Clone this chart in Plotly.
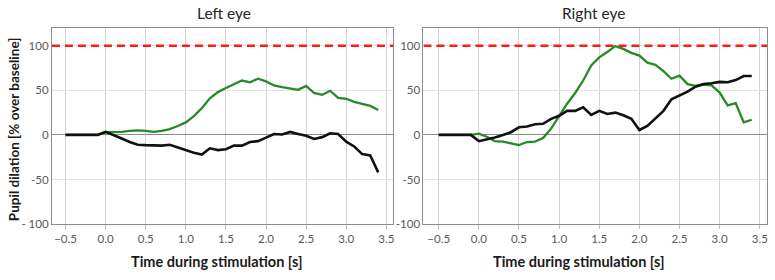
import plotly.graph_objects as go

time = [round(-0.5 + 0.1 * i, 1) for i in range(40)]

left_black = [0, 0, 0, 0, 0, 3.5, 0, -4, -8, -11, -11.5, -12, -12, -11, -14, -17, -20, -22, -15, -17,
              -16, -12, -12, -8, -7, -3, 1, 0.5, 3.3, 1, -1, -4.5, -2.5, 1.8, 1, -7.5, -13, -21.5, -23, -42]
left_green = [0, 0, 0, 0, 0, 3, 3, 3.5, 4.5, 5, 4.5, 3.5, 4.5, 6.5, 10, 14, 21, 30, 41, 48,
              52.5, 57, 61, 59, 63, 60, 55.5, 53.5, 52, 50.5, 55, 47, 45, 49.5, 41.5, 40.5, 37, 34.5, 32.5, 28]
right_black = [0, 0, 0, 0, 0, -7, -5, -3, 0, 3, 8.5, 9.5, 12, 12.5, 18, 21.5, 27, 27, 31, 22.5,
               27, 23.5, 25, 22, 18, 5.5, 10, 18.5, 27, 40, 44, 48.5, 54, 57, 58, 59.5, 59, 61.5, 66, 66]
right_green = [0, 0, 0, 0, 0, 1.5, -2, -7, -7.5, -9.5, -11.5, -8, -7.5, -3.5, 7, 21, 35, 47, 61, 78,
               87, 93, 99.5, 96.5, 92, 89, 81, 78.5, 71.5, 63, 66.5, 57, 55, 56.5, 55.5, 47.5, 33, 35.5, 14, 17]

panel_titles = ["Left eye", "Right eye"]
x_title = "Time during stimulation [s]"
y_title = "Pupil dilation [% over baseline]"
x_ticks = [-0.5, 0.0, 0.5, 1.0, 1.5, 2.0, 2.5, 3.0, 3.5]
y_ticks = [-100, -50, 0, 50, 100]
y_ticktext_left = ["- 100", "-50", "0", "50", "100"]
y_ticktext_right = ["-100", "-50", "0", "50", "100"]
ref_level = 100

W, H = 775, 280
GREEN = "#268a26"
FONT = "Lato"

fig = go.Figure()

panels = [
    dict(xa="x", ya="y", black=left_black, green=left_green, xdom=(52, 394), xr=[-0.67, 3.59], tt=y_ticktext_left),
    dict(xa="x2", ya="y2", black=right_black, green=right_green, xdom=(424, 768), xr=[-0.69, 3.59], tt=y_ticktext_right),
]

ydom = [1 - 229 / H, 1 - 28.5 / H]

for i, p in enumerate(panels):
    fig.add_trace(go.Scatter(x=[p["xr"][0], p["xr"][1]], y=[ref_level, ref_level], mode="lines",
                             line=dict(color="#ff1a1a", width=2.5, dash="8px,5px"),
                             xaxis=p["xa"], yaxis=p["ya"], showlegend=False, hoverinfo="skip"))
    fig.add_trace(go.Scatter(x=time, y=p["green"], mode="lines", line=dict(color=GREEN, width=2.3),
                             xaxis=p["xa"], yaxis=p["ya"], showlegend=False))
    fig.add_trace(go.Scatter(x=time, y=p["black"], mode="lines", line=dict(color="#111111", width=2.6),
                             xaxis=p["xa"], yaxis=p["ya"], showlegend=False))
    sfx = "" if i == 0 else "2"
    fig.layout["xaxis" + sfx] = dict(
        domain=[p["xdom"][0] / W, p["xdom"][1] / W], range=p["xr"], anchor="y" + sfx,
        tickvals=x_ticks, tickformat=".1f", showgrid=True, gridcolor="#d4d4d4", gridwidth=1,
        showline=True, linecolor="#8c8c8c", linewidth=1, mirror=True,
        ticks="outside", ticklen=4, tickcolor="#bfbfbf", zeroline=False,
        tickfont=dict(family=FONT, size=11.5, color="#595959"),
    )
    fig.layout["yaxis" + sfx] = dict(
        domain=ydom, range=[-100, 120], anchor="x" + sfx,
        tickvals=y_ticks, ticktext=p["tt"], showgrid=True, gridcolor="#e3e3e3", gridwidth=1,
        showline=True, linecolor="#8c8c8c", linewidth=1, mirror=True,
        zeroline=True, zerolinecolor="#8c8c8c", zerolinewidth=1, ticks="",
        tickfont=dict(family=FONT, size=11.5, color="#595959"),
    )

annotations = []
centers = [224, 594]
for c, t in zip(centers, panel_titles):
    annotations.append(dict(text=t, x=c / W, y=1 - 13 / H, xref="paper", yref="paper",
                            showarrow=False, font=dict(family=FONT, size=15.5, color="#262626"),
                            xanchor="center", yanchor="middle"))
for c in [217, 579]:
    annotations.append(dict(text="<b>" + x_title + "</b>", x=c / W, y=1 - 267 / H, xref="paper", yref="paper",
                            showarrow=False, font=dict(family=FONT, size=14.5, color="#1a1a1a"),
                            xanchor="center", yanchor="middle"))
annotations.append(dict(text="<b>" + y_title + "</b>", x=14 / W, y=1 - 132 / H, xref="paper", yref="paper",
                        showarrow=False, textangle=-90, font=dict(family=FONT, size=13.5, color="#1a1a1a"),
                        xanchor="center", yanchor="middle"))

fig.update_layout(width=W, height=H, margin=dict(l=0, r=0, t=0, b=0),
                  paper_bgcolor="white", plot_bgcolor="white", annotations=annotations)

fig.write_html("out.html", config={"displayModeBar": False},
               post_script="document.body.style.margin='0';document.body.style.overflow='hidden';")
